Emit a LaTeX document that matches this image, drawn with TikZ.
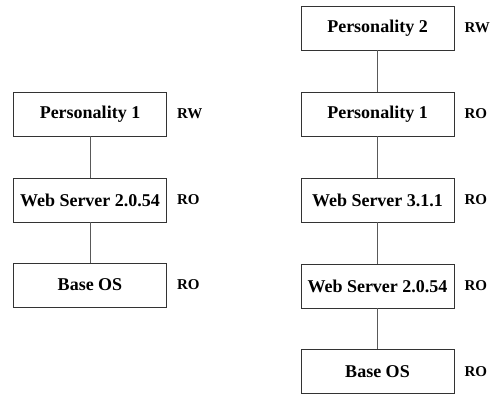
\documentclass[tikz,border=0pt]{standalone}
\usepackage{fontspec}
\setmainfont{Liberation Serif}
\usetikzlibrary{positioning}
\begin{document}
\begin{tikzpicture}[x=1pt,y=-1pt,
        layer/.style={draw=black!80,line width=0.8pt,minimum width=153pt,minimum height=44pt,inner sep=0pt,font=\fontsize{18}{21}\selectfont\bfseries},
        mode/.style={inner sep=0pt,anchor=west,font=\fontsize{15}{17}\selectfont\bfseries},
        link/.style={draw=black!65,line width=0.8pt}]
    \useasboundingbox (0,0) rectangle (493,394);
    % left stack
    \node[layer] (lp1) at (90,114) {Personality 1};
    \node[layer] (lws) at (90,200) {Web Server 2.0.54};
    \node[layer] (los) at (90,285) {Base OS};
    \node[mode,right=10pt of lp1] {RW};
    \node[mode,right=10pt of lws] {RO};
    \node[mode,right=10pt of los] {RO};
    \draw[link] (lp1) -- (lws);
    \draw[link] (lws) -- (los);
    % right stack
    \node[layer] (rp2) at (377.5,28) {Personality 2};
    \node[layer] (rp1) at (377.5,114) {Personality 1};
    \node[layer] (rws3) at (377.5,200) {Web Server 3.1.1};
    \node[layer] (rws2) at (377.5,286) {Web Server 2.0.54};
    \node[layer] (ros) at (377.5,371.5) {Base OS};
    \node[mode,right=10pt of rp2] {RW};
    \node[mode,right=10pt of rp1] {RO};
    \node[mode,right=10pt of rws3] {RO};
    \node[mode,right=10pt of rws2] {RO};
    \node[mode,right=10pt of ros] {RO};
    \draw[link] (rp2) -- (rp1);
    \draw[link] (rp1) -- (rws3);
    \draw[link] (rws3) -- (rws2);
    \draw[link] (rws2) -- (ros);
\end{tikzpicture}
\end{document}
